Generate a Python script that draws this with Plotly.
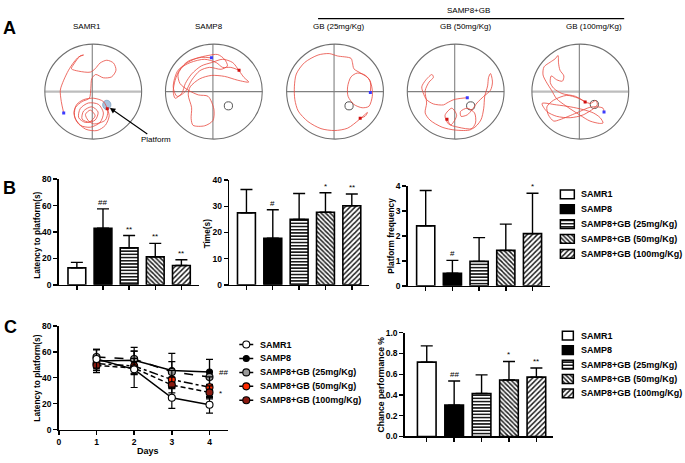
import plotly.graph_objects as go

W, H = 685, 463
FONT = "Arial, Liberation Sans, sans-serif"

# ---------------- data ----------------
groups = ["SAMR1", "SAMP8", "SAMP8+GB (25mg/Kg)", "SAMP8+GB (50mg/Kg)", "SAMP8+GB (100mg/Kg)"]
panelA_titles = ["SAMR1", "SAMP8", "GB (25mg/Kg)", "GB (50mg/Kg)", "GB (100mg/Kg)"]

# Panel B (probe trial)
latency_mean = [12.8, 42.8, 28.1, 21.2, 14.6]
latency_upper = [4.2, 14.7, 9.2, 10.2, 4.4]
latency_sig = ["", "##", "**", "**", "**"]

time_mean = [27.5, 17.8, 25.0, 27.7, 30.2]
time_upper = [8.9, 10.9, 9.9, 7.5, 4.5]
time_sig = ["", "#", "", "*", "**"]

freq_mean = [2.40, 0.50, 0.98, 1.42, 2.09]
freq_upper = [1.42, 0.52, 0.95, 1.05, 1.62]
freq_sig = ["", "#", "", "", "*"]

# Panel C right
chance_mean = [0.717, 0.302, 0.415, 0.544, 0.572]
chance_upper = [0.157, 0.233, 0.179, 0.179, 0.088]
chance_sig = ["", "##", "", "*", "**"]

# Panel C left (acquisition, days 1-4)
days = [1, 2, 3, 4]
acq_samr1 = [54.5, 46.5, 24.6, 19.2]
acq_samr1_err = [7.0, 14.0, 8.2, 6.5]
acq_samp8 = [53.0, 53.5, 45.6, 44.5]
acq_samp8_err = [9.0, 10.0, 13.2, 9.6]
acq_gb25 = [56.0, 54.5, 44.5, 40.6]
acq_gb25_err = [6.0, 6.0, 8.0, 13.7]
acq_gb50 = [51.0, 49.0, 38.6, 32.7]
acq_gb50_err = [5.0, 6.0, 7.0, 8.0]
acq_gb100 = [49.5, 47.5, 34.4, 28.7]
acq_gb100_err = [4.0, 5.0, 6.0, 5.0]
acq_day4_sig = ["", "##", "", "", "*"]

# Panel A swim tracks (normalised pool coordinates, pool radius = 1)
track_samr1 = [(-0.61, -0.45), (-0.66, -0.21), (-0.68, 0.03), (-0.61, 0.24), (-0.51, 0.45), (-0.40, 0.62),
               (-0.30, 0.73), (-0.20, 0.77), (-0.27, 0.75), (-0.40, 0.58), (-0.45, 0.48), (-0.30, 0.43),
               (-0.06, 0.41), (0.04, 0.48), (0.14, 0.60), (0.28, 0.66), (0.42, 0.60), (0.47, 0.45),
               (0.38, 0.31), (0.21, 0.29), (0.05, 0.36), (-0.03, 0.27), (-0.05, 0.07), (-0.08, -0.14),
               (-0.23, -0.21), (-0.37, -0.34), (-0.38, -0.55), (-0.27, -0.71), (-0.06, -0.75), (0.14, -0.65),
               (0.21, -0.45), (0.11, -0.27), (-0.10, -0.24), (-0.27, -0.36), (-0.30, -0.55), (-0.16, -0.65),
               (0.04, -0.60), (0.10, -0.43), (-0.03, -0.32), (-0.20, -0.41), (-0.23, -0.58), (-0.08, -0.64),
               (0.04, -0.51), (-0.06, -0.39), (-0.16, -0.48), (-0.11, -0.60), (0.01, -0.68), (0.25, -0.60),
               (0.30, -0.41), (0.21, -0.21), (0.01, -0.14), (-0.20, -0.17), (-0.34, -0.27), (-0.40, -0.45),
               (-0.34, -0.62), (-0.16, -0.79), (0.08, -0.82), (0.25, -0.71), (0.33, -0.51), (0.29, -0.36)]
track_samp8 = [(-0.05, 0.71), (-0.26, 0.72), (-0.53, 0.64), (-0.70, 0.47), (-0.80, 0.24), (-0.84, 0.00),
               (-0.80, -0.14), (-0.66, -0.03), (-0.59, 0.17), (-0.46, 0.37), (-0.26, 0.54), (-0.05, 0.61),
               (0.18, 0.68), (0.39, 0.61), (0.52, 0.44), (0.62, 0.30), (0.72, 0.20), (0.49, 0.24),
               (0.22, 0.32), (-0.05, 0.34), (-0.29, 0.27), (-0.49, 0.10), (-0.53, -0.07), (-0.46, -0.34),
               (-0.47, -0.57), (-0.43, -0.71), (-0.19, -0.72), (-0.02, -0.61), (0.00, -0.37), (-0.12, -0.10),
               (-0.32, -0.07), (-0.53, 0.03), (-0.70, 0.17), (-0.74, 0.37), (-0.59, 0.58), (-0.36, 0.70),
               (-0.12, 0.76), (0.08, 0.78), (0.22, 0.68), (0.28, 0.54), (0.15, 0.47), (-0.09, 0.51),
               (-0.29, 0.44), (-0.46, 0.24), (-0.59, 0.00), (-0.76, -0.10), (-0.84, 0.10), (-0.74, 0.45),
               (-0.49, 0.61), (-0.19, 0.68), (0.05, 0.61), (0.18, 0.51), (0.35, 0.51), (0.52, 0.45)]
track_gb25 = [(0.73, -0.02), (0.73, 0.20), (0.63, 0.34), (0.46, 0.39), (0.33, 0.31), (0.26, 0.10),
              (0.27, -0.10), (0.39, -0.27), (0.56, -0.34), (0.70, -0.31), (0.77, -0.10), (0.76, 0.10),
              (0.70, 0.27), (0.53, 0.39), (0.39, 0.48), (0.36, 0.61), (0.33, 0.70), (0.05, 0.75),
              (-0.12, 0.80), (-0.35, 0.77), (-0.63, 0.61), (-0.80, 0.37), (-0.84, 0.10), (-0.83, -0.17),
              (-0.76, -0.41), (-0.56, -0.63), (-0.29, -0.78), (-0.01, -0.82), (0.26, -0.77), (0.50, -0.59),
              (0.67, -0.44), (0.62, -0.52), (0.52, -0.56)]
track_gb50 = [(0.24, -0.13), (0.13, -0.14), (-0.04, -0.17), (-0.18, -0.24), (-0.25, -0.28), (-0.46, -0.26),
              (-0.60, -0.17), (-0.67, -0.03), (-0.70, 0.10), (-0.62, 0.24), (-0.49, 0.36), (-0.46, 0.30),
              (-0.55, 0.20), (-0.63, 0.02), (-0.60, -0.24), (-0.63, -0.45), (-0.53, -0.60), (-0.28, -0.75),
              (-0.01, -0.81), (0.31, -0.80), (0.41, -0.66), (0.39, -0.45), (0.24, -0.35), (0.10, -0.42),
              (0.11, -0.52), (0.24, -0.49), (0.34, -0.38), (0.44, -0.24), (0.58, -0.10), (0.72, 0.03),
              (0.76, 0.20), (0.72, 0.38), (0.68, 0.30), (0.66, 0.12), (0.60, -0.10), (0.58, -0.35),
              (0.52, -0.60), (0.35, -0.78), (0.05, -0.75), (-0.15, -0.68), (-0.22, -0.50), (-0.08, -0.35),
              (0.02, -0.50), (-0.10, -0.70), (-0.18, -0.58)]
track_gb100 = [(0.49, -0.43), (0.47, -0.35), (0.34, -0.32), (0.20, -0.33), (-0.08, -0.45), (-0.42, -0.59),
               (-0.55, -0.62), (-0.66, -0.49), (-0.69, -0.32), (-0.55, -0.18), (-0.28, -0.08), (-0.04, -0.14),
               (0.20, -0.25), (0.32, -0.19), (0.35, -0.28), (0.06, -0.49), (-0.21, -0.55), (-0.49, -0.52),
               (-0.69, -0.42), (-0.79, -0.25), (-0.49, -0.28), (-0.21, -0.32), (0.06, -0.38), (0.27, -0.45),
               (0.41, -0.55), (0.47, -0.66), (0.40, -0.67), (0.20, -0.62), (0.00, -0.50), (-0.30, -0.30),
               (-0.49, -0.15), (-0.59, 0.02), (-0.69, 0.18), (-0.77, 0.35), (-0.75, 0.52), (-0.62, 0.62),
               (-0.52, 0.69), (-0.46, 0.76), (-0.45, 0.60), (-0.42, 0.45), (-0.34, 0.33), (-0.37, 0.22),
               (-0.49, 0.25), (-0.60, 0.33), (-0.62, 0.19), (-0.55, 0.07), (-0.38, -0.04), (-0.10, -0.10),
               (0.10, -0.22)]
tracks = [track_samr1, track_samp8, track_gb25, track_gb50, track_gb100]
platform_x = [0.28, 0.30, 0.29, 0.31, 0.29]
platform_y = [-0.28, -0.30, -0.30, -0.30, -0.27]

# ---------------- styles ----------------
bar_styles = [
    dict(color="white", pattern=dict(shape="")),
    dict(color="black", pattern=dict(shape="")),
    dict(color="white", pattern=dict(shape="-", fgcolor="#1a1a1a", bgcolor="white", size=3.2, solidity=0.5, fillmode="replace")),
    dict(color="white", pattern=dict(shape="\\", fgcolor="#1a1a1a", bgcolor="white", size=3.2, solidity=0.45, fillmode="replace")),
    dict(color="white", pattern=dict(shape="/", fgcolor="#1a1a1a", bgcolor="white", size=3.6, solidity=0.4, fillmode="replace")),
]
line_styles = [
    dict(fill="white", dash="solid", size=7),
    dict(fill="black", dash="solid", size=6),
    dict(fill="#9a9a9a", dash="dash", size=7),
    dict(fill="#ff2a00", dash="dashdot", size=7),
    dict(fill="#8b1a10", dash="5px,3px", size=7),
]
acq_means = [acq_samr1, acq_samp8, acq_gb25, acq_gb50, acq_gb100]
acq_errs = [acq_samr1_err, acq_samp8_err, acq_gb25_err, acq_gb50_err, acq_gb100_err]

fig = go.Figure()
layout = dict(width=W, height=H, margin=dict(l=0, r=0, t=0, b=0), paper_bgcolor="white",
              plot_bgcolor="rgba(0,0,0,0)", showlegend=False, barmode="overlay",
              font=dict(family=FONT, color="black"))
annotations = []
shapes = []


def names(n):
    return ("xaxis" if n == 1 else f"xaxis{n}", "yaxis" if n == 1 else f"yaxis{n}",
            "x" if n == 1 else f"x{n}", "y" if n == 1 else f"y{n}")


def dx(a, b):
    return [a / W, b / W]


def dy(top, bottom):
    return [1 - bottom / H, 1 - top / H]


def paper_text(text, x, y, size, bold=False, angle=0):
    annotations.append(dict(x=x / W, y=1 - y / H, xref="paper", yref="paper", text=text,
                            xanchor="center", yanchor="middle", textangle=angle, showarrow=False,
                            font=dict(size=size, family=FONT, weight="bold" if bold else "normal")))


def axis_common():
    return dict(showline=True, linecolor="black", linewidth=1.6, ticks="outside", ticklen=4,
                tickwidth=1.4, tickcolor="black", showgrid=False, zeroline=False, fixedrange=True,
                tickfont=dict(family=FONT, size=8.5, weight="bold", color="black"))


def bar_panel(n, means, uppers, sigs, xpx, ypx, xr, yr, dtick, tickfmt=None):
    xa, ya, xref, yref = names(n)
    layout[xa] = dict(axis_common(), domain=dx(*xpx), anchor=yref, type="category",
                      categoryorder="array", categoryarray=groups, range=xr, showticklabels=False)
    layout[ya] = dict(axis_common(), domain=dy(*ypx), anchor=xref, range=yr, dtick=dtick, tick0=0)
    if tickfmt:
        layout[ya]["tickformat"] = tickfmt
    for i, g in enumerate(groups):
        st = bar_styles[i]
        fig.add_trace(go.Bar(x=[g], y=[means[i]], width=0.68, xaxis=xref, yaxis=yref,
                             marker=dict(color=st["color"], line=dict(color="black", width=1.6),
                                         pattern=st["pattern"]),
                             error_y=dict(type="data", symmetric=False, array=[uppers[i]], arrayminus=[0],
                                          color="black", thickness=1.4, width=6),
                             hoverinfo="skip"))
        if sigs[i]:
            annotations.append(dict(x=g, y=means[i] + uppers[i], xref=xref, yref=yref, text=sigs[i],
                                    showarrow=False, xanchor="center", yanchor="bottom", yshift=0,
                                    font=dict(size=8, family=FONT)))


def bar_legend(n, xpx, first, spacing, sw_x0, sw_w, text_x):
    xa, ya, xref, yref = names(n)
    layout[xa] = dict(domain=dx(*xpx), range=[0, xpx[1] - xpx[0]], visible=False, anchor=yref, fixedrange=True)
    layout[ya] = dict(domain=dy(first - spacing / 2, first + spacing * 4.5), range=[4.5, -0.5],
                      visible=False, anchor=xref, fixedrange=True)
    for i, g in enumerate(groups):
        st = bar_styles[i]
        fig.add_trace(go.Bar(orientation="h", y=[i], x=[sw_w], base=[sw_x0], width=9.0 / spacing,
                             xaxis=xref, yaxis=yref,
                             marker=dict(color=st["color"], line=dict(color="black", width=1.5),
                                         pattern=st["pattern"]), hoverinfo="skip"))
        annotations.append(dict(x=text_x, y=i, xref=xref, yref=yref, text=g, xanchor="left",
                                yanchor="middle", showarrow=False,
                                font=dict(size=9.0, weight="bold", family=FONT)))


# ---------------- Panel B ----------------
bar_panel(1, latency_mean, latency_upper, latency_sig, (57, 198), (178, 286), [-0.69, 4.69], [0, 80], 20)
bar_panel(2, time_mean, time_upper, time_sig, (228, 368), (179, 286), [-0.65, 4.65], [0, 40], 10)
bar_panel(3, freq_mean, freq_upper, freq_sig, (407, 550), (185, 287), [-0.67, 4.67], [0, 4], 1)
bar_legend(11, (555, 685), 193.5, 15.2, 5, 14, 24)

# ---------------- Panel C right ----------------
bar_panel(5, chance_mean, chance_upper, chance_sig, (404, 553), (335, 441), [-0.8, 4.62], [0, 1.0], 0.2, ".1f")
bar_legend(13, (555, 685), 338, 14.75, 7, 11, 24)

# ---------------- Panel C left ----------------
xa, ya, xref, yref = names(4)
layout[xa] = dict(axis_common(), domain=dx(57, 227), anchor=yref, range=[0, 4.5], dtick=1, tick0=0)
layout[ya] = dict(axis_common(), domain=dy(328, 434), anchor=xref, range=[0, 80], dtick=20, tick0=0)
for i in [1, 2, 3, 4, 0]:
    st = line_styles[i]
    fig.add_trace(go.Scatter(x=days, y=acq_means[i], mode="lines+markers", xaxis=xref, yaxis=yref,
                             line=dict(color="black", width=1.5, dash=st["dash"]),
                             marker=dict(size=st["size"], color=st["fill"], line=dict(color="black", width=1.1)),
                             error_y=dict(type="data", array=acq_errs[i], color="black", thickness=1.2, width=3.5),
                             cliponaxis=False, hoverinfo="skip"))
for i, s in enumerate(acq_day4_sig):
    if s:
        annotations.append(dict(x=days[-1], y=acq_means[i][-1], xref=xref, yref=yref, text=s,
                                showarrow=False, xanchor="left", yanchor="middle", xshift=7, yshift=-1,
                                font=dict(size=8, family=FONT)))

# line legend for panel C left
xa, ya, xref, yref = names(12)
leg_first, leg_sp = 347, 14.25
layout[xa] = dict(domain=dx(236, 400), range=[0, 164], visible=False, anchor=yref, fixedrange=True)
layout[ya] = dict(domain=dy(leg_first - leg_sp / 2, leg_first + leg_sp * 4.5), range=[4.5, -0.5],
                  visible=False, anchor=xref, fixedrange=True)
for i, g in enumerate(groups):
    st = line_styles[i]
    fig.add_trace(go.Scatter(x=[2, 16], y=[i, i], mode="lines", xaxis=xref, yaxis=yref,
                             line=dict(color="black", width=1.5), hoverinfo="skip"))
    fig.add_trace(go.Scatter(x=[9], y=[i], mode="markers", xaxis=xref, yaxis=yref,
                             marker=dict(size=st["size"], color=st["fill"], line=dict(color="black", width=1.1)),
                             hoverinfo="skip"))
    annotations.append(dict(x=21, y=i, xref=xref, yref=yref, text=g, xanchor="left", yanchor="middle",
                            showarrow=False, font=dict(size=9.0, weight="bold", family=FONT)))

# ---------------- Panel A ----------------
centers_px = [91.5, 212.5, 334, 455, 580]
CY, HALF = 88.5, 50
thick_h = [True, False, False, False, True]
for k in range(5):
    n = 6 + k
    xa, ya, xref, yref = names(n)
    cx = centers_px[k]
    layout[xa] = dict(domain=dx(cx - HALF, cx + HALF), range=[-1.03, 1.03], visible=False, anchor=yref, fixedrange=True)
    layout[ya] = dict(domain=dy(CY - HALF, CY + HALF), range=[-1.03, 1.03], visible=False, anchor=xref, fixedrange=True)
    hcol, hw = ("#bdbdbd", 2.4) if thick_h[k] else ("#808080", 1.1)
    shapes.append(dict(type="line", xref=xref, yref=yref, x0=-1, x1=1, y0=0, y1=0,
                       line=dict(color=hcol, width=hw), layer="below"))
    shapes.append(dict(type="line", xref=xref, yref=yref, x0=-0.02, x1=-0.02, y0=-1, y1=1,
                       line=dict(color="#808080", width=1.1), layer="below"))
    shapes.append(dict(type="circle", xref=xref, yref=yref, x0=-1, x1=1, y0=-1, y1=1,
                       line=dict(color="#707070", width=1.1), layer="below"))
    pr = 0.085
    if k == 0:
        shapes.append(dict(type="circle", xref=xref, yref=yref, x0=platform_x[k] - pr, x1=platform_x[k] + pr,
                           y0=platform_y[k] - pr * 1.15, y1=platform_y[k] + pr * 1.15,
                           fillcolor="#a8c3df", line=dict(color="#7f9fbf", width=0.8), layer="below"))
    else:
        shapes.append(dict(type="circle", xref=xref, yref=yref, x0=platform_x[k] - pr, x1=platform_x[k] + pr,
                           y0=platform_y[k] - pr, y1=platform_y[k] + pr,
                           line=dict(color="#555555", width=1.0), layer="below"))
    tr = tracks[k]
    fig.add_trace(go.Scatter(x=[p[0] for p in tr], y=[p[1] for p in tr], mode="lines", xaxis=xref, yaxis=yref,
                             line=dict(color="#e8473d", width=0.8, shape="spline", smoothing=0.8),
                             hoverinfo="skip"))
    fig.add_trace(go.Scatter(x=[tr[0][0]], y=[tr[0][1]], mode="markers", xaxis=xref, yaxis=yref,
                             marker=dict(size=3, color="#3b3bff", symbol="square"), hoverinfo="skip"))
    fig.add_trace(go.Scatter(x=[tr[-1][0]], y=[tr[-1][1]], mode="markers", xaxis=xref, yaxis=yref,
                             marker=dict(size=3, color="#d01010", symbol="square"), hoverinfo="skip"))

title_px = [85, 208, 337, 465, 594]
for k, t in enumerate(panelA_titles):
    paper_text(t, title_px[k], 22, 8)
paper_text("SAMP8+GB", 468, 6, 8)
shapes.append(dict(type="line", xref="paper", yref="paper", x0=317 / W, x1=624 / W, y0=1 - 14 / H, y1=1 - 14 / H,
                   line=dict(color="black", width=1.2)))
annotations.append(dict(x=0.345, y=-0.345, xref="x6", yref="y6", text="Platform", showarrow=True,
                        ax=46, ay=32, arrowhead=2, arrowsize=1, arrowwidth=1.1, arrowcolor="black",
                        xanchor="center", yanchor="middle", font=dict(size=8, family=FONT)))

# ---------------- axis titles & panel letters ----------------
paper_text("Latency to platform(s)", 35, 235, 8.3, True, -90)
paper_text("Time(s)", 206, 233, 8.3, True, -90)
paper_text("Platform frequency", 390, 236, 8.3, True, -90)
paper_text("Latency to platform(s)", 35, 381, 8.3, True, -90)
paper_text("Chance performance %", 380, 388, 8.6, True, -90)
paper_text("Days", 146, 456, 9.0, True)
paper_text("A", 8, 23, 18, True)
paper_text("B", 8, 187, 18, True)
paper_text("C", 8.5, 329, 18, True)

layout["annotations"] = annotations
layout["shapes"] = shapes
fig.update_layout(**layout)
fig.write_html("out.html", config={"displayModeBar": False, "staticPlot": True},
               post_script="document.body.style.margin='0px';")
